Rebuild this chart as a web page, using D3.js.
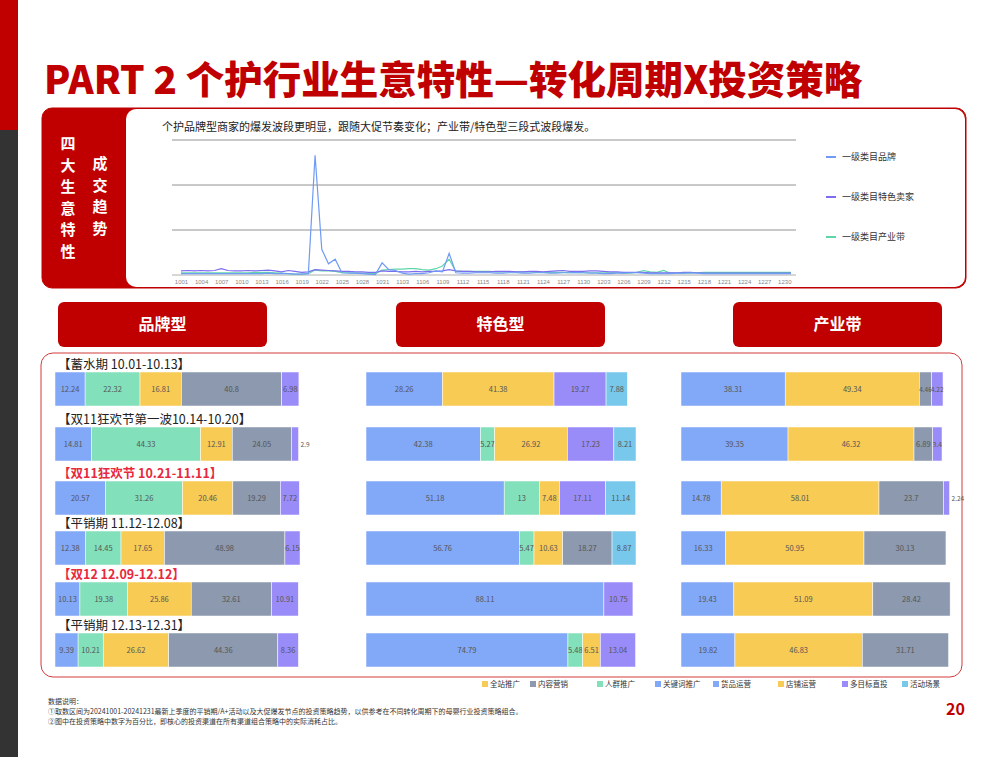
<!DOCTYPE html>
<html><head><meta charset="utf-8">
<script src="https://cdn.jsdelivr.net/npm/d3@7"></script>
<style>body{margin:0;background:#fff;font-family:"Noto Sans CJK SC","Noto Sans",sans-serif;}</style>
</head><body><svg id="s"></svg>
<script>
const W = 1007, H = 757;

// trend data (1001 - 1231)
const brandLine = [3,3,3,3,3,3,3,3,3,3, 3,3,3,4,3,3,3,2,2,3, 266,57,25,35,5,4,4,3,2,1,
  27,12,10,4,2,3,3,5,9,7, 48,5,4,4,5,5,5,4,4,5, 5,4,4,5,5,4,4,5,5,6,
  5,4,4,3,3,4,4,5,5,4, 3,3,3,3,4,4,5,4,3,3, 3,3,3,3,3,3,3,3,3,3, 3,3];
const specialLine = [9,10,9,10,9,10,14,10,9,9, 10,9,10,11,9,7,10,8,6,7, 12,11,10,9,8,8,7,7,6,6,
  9,8,8,7,7,8,7,8,8,9, 12,9,8,8,7,7,7,8,8,8, 7,7,8,8,7,8,9,10,8,8,
  8,9,9,8,7,7,6,6,6,6, 5,5,5,5,5,6,6,5,4,4, 4,4,4,4,4,4,4,4,4,4, 4,4];
const industryLine = [5,5,5,5,5,5,5,5,5,5, 5,6,6,6,5,4,3,2,2,3, 11,9,9,8,5,5,4,4,3,3,
  11,12,13,13,14,14,12,11,14,20, 35,8,8,8,8,8,8,7,7,7, 7,7,7,6,6,6,6,6,5,5,
  5,5,5,5,5,5,4,4,6,10, 7,6,10,4,4,4,4,5,6,6, 6,6,6,6,6,6,6,6,6,6, 6,6];
const lineNames = ['一级类目品牌', '一级类目特色卖家', '一级类目产业带'];
const lineColors = ['#6f9bf5', '#7b6cf0', '#5fd6a8'];
const months = [['10', 31], ['11', 30], ['12', 31]];
const dates = [];
months.forEach(([m, n]) => { for (let d = 1; d <= n; d++) dates.push(m + String(d).padStart(2, '0')); });

// strategy bars
const periods = ['【蓄水期 10.01-10.13】', '【双11狂欢节第一波10.14-10.20】', '【双11狂欢节 10.21-11.11】',
  '【平销期 11.12-12.08】', '【双12  12.09-12.12】', '【平销期  12.13-12.31】'];
const hotPeriods = [2, 4];
const segKeys = ['关键词', '人群', '全站', '内容', '多目标', '活动'];
const segColors = ['#82a8f8', '#82e0bb', '#f8cb55', '#8c99ae', '#9a8cf8', '#78c8ec'];
const brandBars = [
  [12.24, 22.32, 16.81, 40.8, 6.98, 0],
  [14.81, 44.33, 12.91, 24.05, 2.9, 0],
  [20.57, 31.26, 20.46, 19.29, 7.72, 0],
  [12.38, 14.45, 17.65, 48.98, 6.15, 0],
  [10.13, 19.38, 25.86, 32.61, 10.91, 0],
  [9.39, 10.21, 26.62, 44.36, 8.36, 0]];
const specialBars = [
  [28.26, 0, 41.38, 0, 19.27, 7.88],
  [42.38, 5.27, 26.92, 0, 17.23, 8.21],
  [51.18, 13, 7.48, 0, 17.11, 11.14],
  [56.76, 5.47, 10.63, 18.27, 0, 8.87],
  [88.11, 0, 0, 0, 10.75, 0],
  [74.79, 5.48, 6.51, 0, 13.04, 0]];
const industryBars = [
  [38.31, 0, 49.34, 4.46, 4.22, 0],
  [39.35, 0, 46.32, 6.89, 3.4, 0],
  [14.78, 0, 58.01, 23.7, 2.24, 0],
  [16.33, 0, 50.95, 30.13, 0, 0],
  [19.43, 0, 51.09, 28.42, 0, 0],
  [19.82, 0, 46.83, 31.71, 0, 0]];
const panelNames = ['品牌型', '特色型', '产业带'];
const legendNames = ['全站推广', '内容营销', '人群推广', '关键词推广', '货品运营', '店铺运营', '多目标直投', '活动场景'];
const legendColors = ['#f8cb55', '#8c99ae', '#82e0bb', '#82a8f8', '#82a8f8', '#f8cb55', '#9a8cf8', '#78c8ec'];

const red = '#c00000';
const svg = d3.select('#s').attr('width', W).attr('height', H);

// page frame
svg.append('rect').attr('x', 0).attr('y', 0).attr('width', 18).attr('height', 130).attr('fill', red);
svg.append('rect').attr('x', 0).attr('y', 130).attr('width', 18).attr('height', H - 130).attr('fill', '#333');
svg.append('text').attr('x', 44).attr('y', 94).attr('fill', red)
  .style('font-size', '38.5px').style('font-weight', 900)
  .text('PART 2 个护行业生意特性—转化周期X投资策略');

// trend box
svg.append('rect').attr('x', 42).attr('y', 108).attr('width', 924).attr('height', 180).attr('rx', 10)
  .attr('fill', red).attr('stroke', red);
svg.append('rect').attr('x', 126).attr('y', 109).attr('width', 839).attr('height', 178).attr('rx', 10)
  .attr('fill', '#fff');
'四大生意特性'.split('').forEach((c, i) => svg.append('text').attr('x', 68).attr('y', 149 + i * 21.5)
  .attr('text-anchor', 'middle').attr('fill', '#fff').style('font-size', '15px').style('font-weight', 700).text(c));
'成交趋势'.split('').forEach((c, i) => svg.append('text').attr('x', 100).attr('y', 169 + i * 21.5)
  .attr('text-anchor', 'middle').attr('fill', '#fff').style('font-size', '15px').style('font-weight', 700).text(c));
svg.append('text').attr('x', 162).attr('y', 131).style('font-size', '11px').attr('fill', '#222')
  .text('个护品牌型商家的爆发波段更明显，跟随大促节奏变化；产业带/特色型三段式波段爆发。');

const x = d3.scalePoint().domain(dates).range([181, 791]);
const y = d3.scaleLinear().domain([0, 300]).range([275, 140]);
const lc = svg.append('g');
[0, 100, 200, 300].forEach(v => lc.append('line').attr('x1', 172).attr('x2', 796)
  .attr('y1', y(v)).attr('y2', y(v)).attr('stroke', v ? '#777' : '#999').attr('stroke-width', 0.8));
lc.append('g').attr('transform', 'translate(0,275)')
  .call(d3.axisBottom(x).tickValues(dates.filter((d, i) => i % 3 === 0)).tickSize(0).tickPadding(5))
  .call(g => g.select('.domain').remove())
  .selectAll('text').style('font-size', '6px').attr('fill', '#888');
const line = d3.line().x((d, i) => x(dates[i])).y(d => y(d));
[industryLine, specialLine, brandLine].forEach((s, k) => {
  const idx = 2 - k;
  lc.append('path').datum(s).attr('d', line).attr('fill', 'none')
    .attr('stroke', lineColors[idx]).attr('stroke-width', 1.2);
});
lineNames.forEach((n, i) => {
  lc.append('line').attr('x1', 826).attr('x2', 836).attr('y1', 157 + i * 40).attr('y2', 157 + i * 40)
    .attr('stroke', lineColors[i]).attr('stroke-width', 2);
  lc.append('text').attr('x', 842).attr('y', 160 + i * 40).style('font-size', '9px').attr('fill', '#333').text(n);
});

// panel buttons
const panelX = [58, 396, 733];
panelNames.forEach((n, i) => {
  svg.append('rect').attr('x', panelX[i]).attr('y', 302).attr('width', 209).attr('height', 45).attr('rx', 6).attr('fill', red);
  svg.append('text').attr('x', panelX[i] + 104.5).attr('y', 330).attr('text-anchor', 'middle')
    .attr('fill', '#fff').style('font-size', '16px').style('font-weight', 700).text(n);
});

// bars box
svg.append('rect').attr('x', 41).attr('y', 353).attr('width', 921).attr('height', 324).attr('rx', 12)
  .attr('fill', 'none').attr('stroke', '#d23a3a').attr('stroke-width', 1);
const rowTop = [372, 427, 481, 531, 582, 633];
periods.forEach((p, i) => {
  svg.append('text').attr('x', 58).attr('y', rowTop[i] - 3).style('font-size', '12.5px')
    .style('font-weight', hotPeriods.includes(i) ? 700 : 400)
    .attr('fill', hotPeriods.includes(i) ? '#e8283c' : '#222').text(p);
});
const panels = [[brandBars, [55, 301]], [specialBars, [366, 636]], [industryBars, [681, 953]]];
panels.forEach(([rows, range]) => {
  const sx = d3.scaleLinear().domain([0, 100]).range(range);
  const stacked = d3.stack().keys(d3.range(6))(rows);
  stacked.forEach((layer, k) => {
    layer.forEach((d, r) => {
      const v = rows[r][k];
      if (!v) return;
      const w = sx(d[1]) - sx(d[0]);
      svg.append('rect').attr('x', sx(d[0])).attr('y', rowTop[r]).attr('width', w).attr('height', 34)
        .attr('fill', segColors[k]).attr('stroke', '#fff').attr('stroke-width', 0.5);
      const outside = w < 8 && k === rows[r].findLastIndex(z => z > 0);
      svg.append('text').attr('x', outside ? sx(d[1]) + 2 : (sx(d[0]) + sx(d[1])) / 2).attr('y', rowTop[r] + 20)
        .attr('text-anchor', outside ? 'start' : 'middle')
        .style('font-size', w < 14 ? '6.5px' : '7.5px').attr('fill', '#555').text(v);
    });
  });
});

// legend
const legX = [482, 530, 597, 655, 713, 778, 842, 902];
legendNames.forEach((n, i) => {
  svg.append('rect').attr('x', legX[i]).attr('y', 681).attr('width', 6).attr('height', 6).attr('fill', legendColors[i]);
  svg.append('text').attr('x', legX[i] + 8).attr('y', 687).style('font-size', '7.5px').attr('fill', '#333').text(n);
});

// notes
['数据说明：', '①取数区间为20241001-20241231最新上季度的平销期/A+活动以及大促爆发节点的投资策略趋势，以供参考在不同转化周期下的母婴行业投资策略组合。',
  '②图中在投资策略中数字为百分比，即核心的投资渠道在所有渠道组合策略中的实际消耗占比。'].forEach((t, i) =>
  svg.append('text').attr('x', 48).attr('y', 704 + i * 10).style('font-size', '7px').attr('fill', '#333').text(t));
svg.append('text').attr('x', 946).attr('y', 715).attr('fill', red).style('font-size', '16px').style('font-weight', 700).text('20');
</script></body></html>
